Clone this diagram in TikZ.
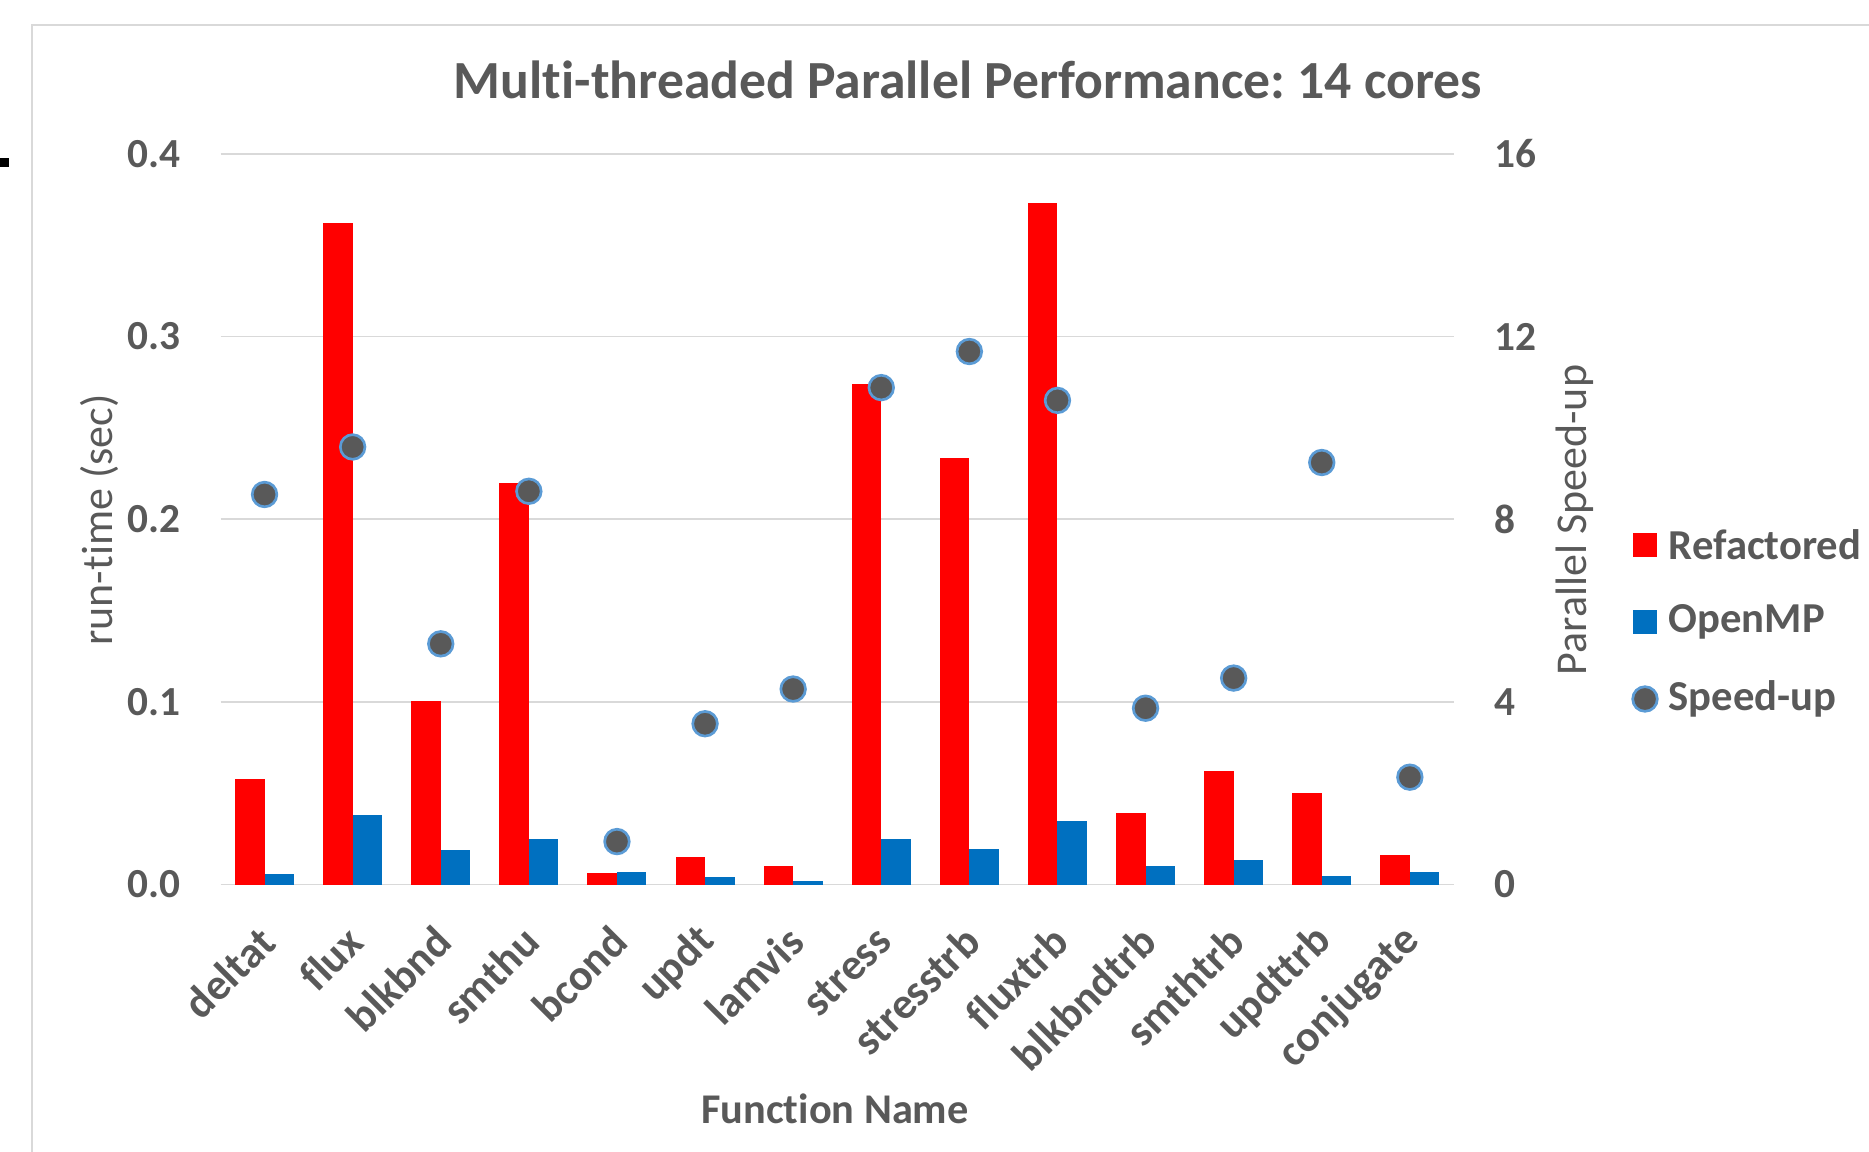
\documentclass[tikz,border=0pt]{standalone}
\usepackage{fontspec}
\setmainfont{Carlito}[Ligatures=NoCommon]
\frenchspacing
\definecolor{txtgray}{HTML}{595959}
\definecolor{gridgray}{HTML}{D9D9D9}
\definecolor{refred}{HTML}{FF0000}
\definecolor{ompblue}{HTML}{0070C0}
\definecolor{dotrim}{HTML}{5B9BD5}
\begin{document}
\begin{tikzpicture}[x=0.3pt,y=-0.3pt,
  ticklab/.style={font=\fontsize{12.4}{14}\selectfont\bfseries,text=txtgray,inner sep=0pt},
  catlab/.style={font=\fontsize{13.2}{15}\selectfont\bfseries,text=txtgray,inner sep=0pt,rotate=45,anchor=east},
  axtitle/.style={font=\fontsize{13.2}{15}\selectfont,text=txtgray,inner sep=0pt},
  spdot/.style={circle,fill=txtgray,draw=dotrim,line width=0.8pt,minimum size=7.4pt,inner sep=0pt}]
  \useasboundingbox (0,0) rectangle (1869,1152);
  % chart area frame (cut at right and bottom)
  \draw[gridgray,line width=0.7pt] (32,1152)--(32,25)--(1869,25);
  \fill (0,158) rectangle (9,167);
  \node[font=\fontsize{16.1}{19}\selectfont\bfseries,text=txtgray] (title) at (968,80) {Multi-threaded Parallel Performance: 14 cores};
  % grid and both axes
  \foreach \v/\sp in {0/0,1/4,2/8,3/12,4/16}{
    \draw[gridgray,line width=0.45pt] (220.5,884.5-182.67*\v)--(1454,884.5-182.67*\v);
    \node[ticklab,anchor=east] (yl\v) at (181,884.5-182.67*\v) {0.\v};
    \node[ticklab,anchor=west] (yr\v) at (1494,884.5-182.67*\v) {\sp};
  }
  \node[axtitle,rotate=90] (ytitle) at (99,520) {run-time (sec)};
  \node[axtitle,rotate=90] (y2title) at (1575,520) {Parallel Speed-up};
  \node[ticklab,font=\fontsize{12.7}{15}\selectfont\bfseries] (xtitle) at (835,1109) {Function Name};
  % bars and speed-up dots
  \foreach \nm/\r/\o/\s [count=\i from 0] in {deltat/0.058/0.006/8.54,flux/0.362/0.038/9.58,
      blkbnd/0.1005/0.019/5.27,smthu/0.22/0.025/8.61,bcond/0.0062/0.007/0.94,updt/0.0148/0.0042/3.52,
      lamvis/0.0099/0.002/4.28,stress/0.274/0.025/10.88,stresstrb/0.2336/0.0196/11.67,
      fluxtrb/0.3733/0.035/10.6,blkbndtrb/0.039/0.0099/3.86,smthtrb/0.062/0.0132/4.52,
      updttrb/0.050/0.0049/9.24,conjugate/0.016/0.007/2.35}{
    \pgfmathsetmacro\cx{220.5+88.1*(\i+0.5)}
    \fill[refred] (\cx-29.5,884.5) rectangle (\cx,884.5-1826.7*\r);
    \fill[ompblue] (\cx,884.5) rectangle (\cx+29.5,884.5-1826.7*\o);
    \node[spdot] (dot\i) at (\cx,884.5-45.67*\s) {};
    \node[catlab] (cat\i) at (\cx+3,934) {\nm};
  }
  % legend
  \fill[refred] (1633,533) rectangle (1657,557);
  \node[ticklab,font=\fontsize{12.8}{15}\selectfont\bfseries,anchor=west] (legref) at (1668,545) {Refactored};
  \fill[ompblue] (1633,610) rectangle (1657,634);
  \node[ticklab,font=\fontsize{12.8}{15}\selectfont\bfseries,anchor=west] (legomp) at (1668,622) {OpenMP};
  \node[spdot] (legdot) at (1645,699) {};
  \node[ticklab,font=\fontsize{12.8}{15}\selectfont\bfseries,anchor=west] (legspd) at (1668,699) {Speed-up};
\end{tikzpicture}
\end{document}
